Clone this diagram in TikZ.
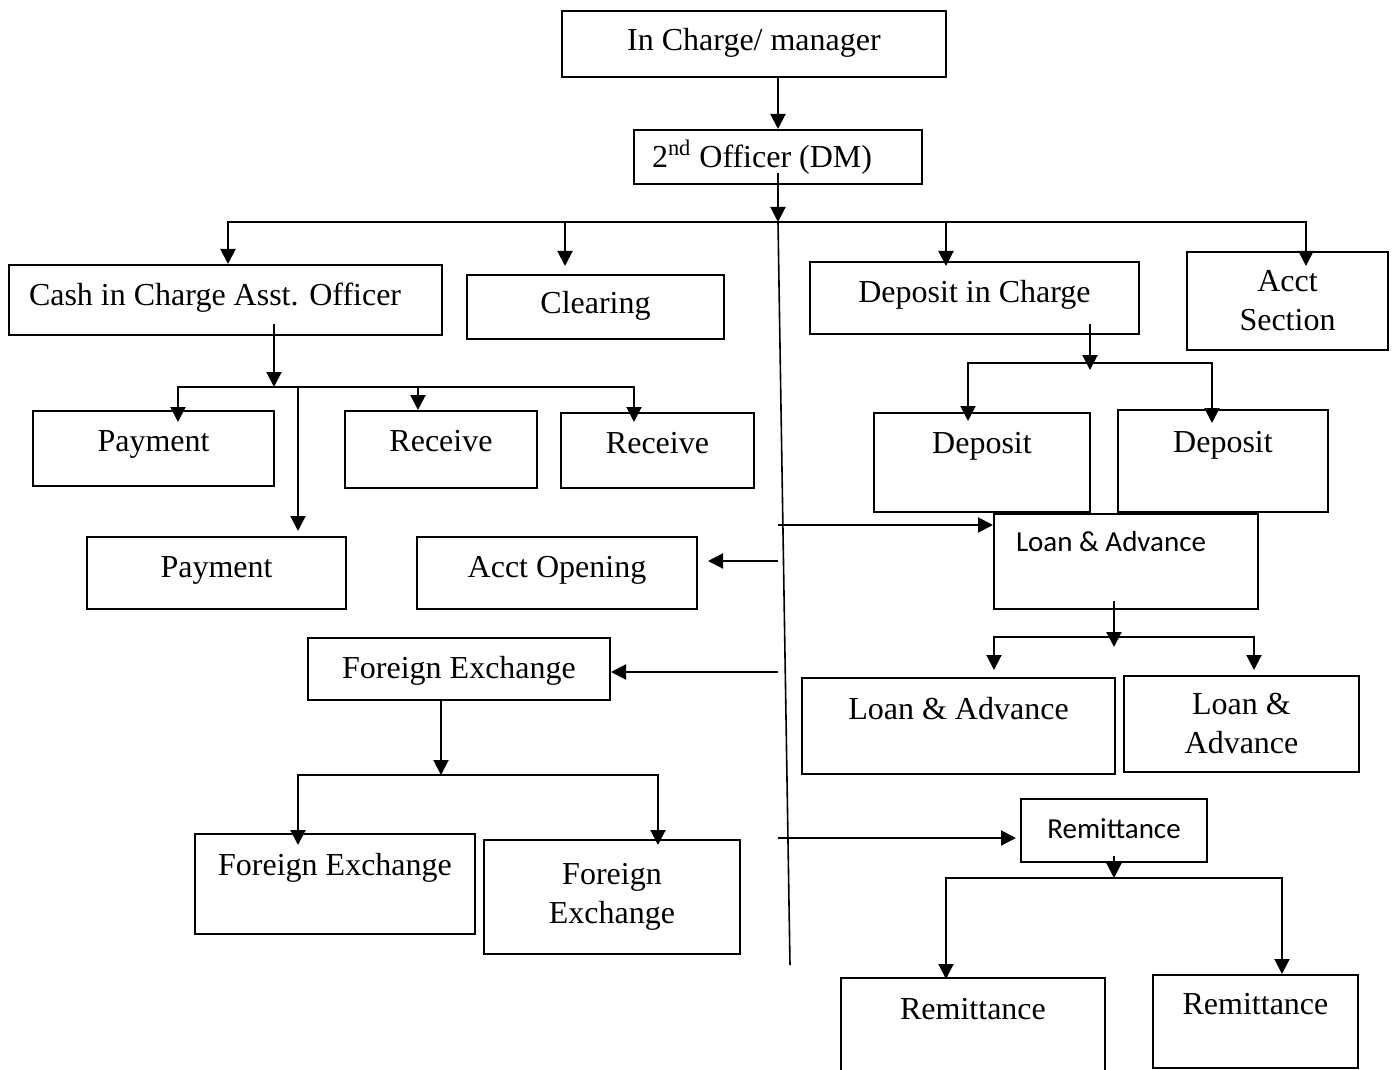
\documentclass[tikz,border=0pt]{standalone}
\usepackage{fontspec}
\setmainfont{Liberation Serif}
\newfontfamily\calibri{Carlito}
\usetikzlibrary{arrows.meta}

\begin{document}
\begin{tikzpicture}[x=0.5pt, y=-0.5pt,
    box/.style={draw, rectangle, line width=1pt, inner sep=0pt, font=\fontsize{16}{19.5}\selectfont, text height=11pt, text depth=#1},
    box/.default=4pt,
    stack/.style={draw, rectangle, line width=1pt, inner sep=0pt, font=\fontsize{16}{19.5}\selectfont, align=center},
    sansbox/.style={box=#1, font=\calibri\fontsize{14.5}{17}\selectfont, text height=10pt},
    arr/.style={line width=1pt, -{Triangle[length=7.5pt, width=7.5pt]}},
    link/.style={line width=1pt, line cap=rect},
    spine/.style={line width=0.8pt}]
    \useasboundingbox (0,0) rectangle (1394,1070);

    % Nodes
    \node[box, minimum width=192pt, minimum height=33pt] (mgr) at (754,44) {In Charge/ manager};
    \node[box=0pt, minimum width=144pt, minimum height=27pt, text width=126pt, inner xsep=9pt, align=flush left] (dm) at (778,157) {2\textsuperscript{nd} Officer (DM)};

    \node[box=5.4pt, minimum width=216.5pt, minimum height=35pt, text width=196.5pt, inner xsep=10pt, align=flush left] (cash) at (225.5,300) {Cash in Charge Asst. Officer};
    \node[box, minimum width=128.5pt, minimum height=32pt] (clearing) at (595.5,307) {Clearing};
    \node[box=6.4pt, minimum width=164.5pt, minimum height=36pt] (depin) at (974.5,298) {Deposit in Charge};
    \node[stack, minimum width=100.5pt, minimum height=49pt] (acct) at (1287.5,301) {Acct\\Section};

    \node[box=8pt, minimum width=120.5pt, minimum height=37.5pt] (pay1) at (153.5,448.5) {Payment};
    \node[box=9pt, minimum width=96pt, minimum height=38.5pt] (recv1) at (441,449.5) {Receive};
    \node[box=8pt, minimum width=96.5pt, minimum height=37.5pt] (recv2) at (657.5,450.5) {Receive};
    \node[box=6.6pt, minimum width=129.5pt, minimum height=36pt] (pay2) at (216.5,573) {Payment};
    \node[box=6.6pt, minimum width=140pt, minimum height=36pt] (acctop) at (557,573) {Acct Opening};
    \node[box=2pt, minimum width=151pt, minimum height=31pt] (fx) at (459,669) {Foreign Exchange};
    \node[box=19.4pt, minimum width=140pt, minimum height=50pt] (fx1) at (335,884) {Foreign Exchange};
    \node[stack, minimum width=128pt, minimum height=57pt] (fx2) at (612,897) {Foreign\\Exchange};

    \node[box=20pt, minimum width=108pt, minimum height=49.5pt] (dep1) at (982,462.5) {Deposit};
    \node[box=20pt, minimum width=105pt, minimum height=51pt] (dep2) at (1223,461) {Deposit};
    \node[sansbox=20pt, minimum width=132pt, minimum height=47.5pt, text width=110pt, inner xsep=11pt, align=flush left] (loan) at (1126,561.5) {Loan \& Advance};
    \node[box=17.4pt, minimum width=156.5pt, minimum height=48pt] (loan1) at (958.5,726) {Loan \& Advance};
    \node[stack, minimum width=117.5pt, minimum height=48pt] (loan2) at (1241.5,724) {Loan \&\\Advance};
    \node[sansbox=2pt, minimum width=93pt, minimum height=31.5pt] (remit) at (1114,830.5) {Remittance};
    \node[box=25.4pt, minimum width=132pt, minimum height=56pt] (remit1) at (973,1034) {Remittance};
    \node[box=18pt, minimum width=102.5pt, minimum height=46.5pt] (remit2) at (1255.5,1021.5) {Remittance};

    % Connections from the top
    \coordinate (bus) at (778,222);
    \draw[arr] (mgr.south -| dm.north) -- (dm.north);
    \draw[arr, shorten <=-6pt] (dm.south) -- (bus);

    \coordinate (tapcash) at (228,222);
    \coordinate (tapclr) at (565,222);
    \coordinate (tapdep) at (946,222);
    \coordinate (tapacct) at (1306,222);
    \draw[link] (tapcash) -- (tapacct);
    \draw[arr] (tapcash) -- (tapcash |- cash.north);
    \draw[arr, shorten >=4pt] (tapclr) -- (tapclr |- clearing.north);
    \draw[arr, shorten >=-2.5pt] (tapdep) -- (tapdep |- depin.north);
    \draw[arr, shorten >=-7.5pt] (tapacct) -- (tapacct |- acct.north);

    % Middle line and its branches
    \coordinate (foot) at (790,965);
    \draw[spine] (bus) -- (foot);
    \coordinate (toloan) at ([yshift=-6pt]loan.north west);
    \coordinate (toopen) at ([yshift=6pt]acctop.east);
    \coordinate (tofx) at ([yshift=-1.5pt]fx.east);
    \coordinate (toremit) at ([yshift=-3.75pt]remit.west);
    \draw[arr] (bus |- toloan) -- (toloan);
    \draw[arr, shorten >=5pt] (bus |- toopen) -- (toopen);
    \draw[arr] (bus |- tofx) -- (tofx);
    \draw[arr, shorten >=2pt] (bus |- toremit) -- (toremit);

    % Cash section
    \coordinate (cashbus) at (274,387);
    \coordinate (tappay1) at (178,387);
    \coordinate (tappay2) at (298,387);
    \coordinate (taprecv1) at (418,387);
    \coordinate (taprecv2) at (634,387);
    \draw[arr, shorten <=-6pt] (cash.south -| cashbus) -- (cashbus);
    \draw[link] (tappay1) -- (taprecv2);
    \draw[arr, shorten >=-6pt] (tappay1) -- (tappay1 |- pay1.north);
    \draw[arr, shorten >=2.5pt] (tappay2) -- (tappay2 |- pay2.north);
    \draw[arr] (taprecv1) -- (taprecv1 |- recv1.north);
    \draw[arr, shorten >=-5pt] (taprecv2) -- (taprecv2 |- recv2.north);

    % Deposit section
    \coordinate (depbus) at (1090,363);
    \coordinate (tapdep1) at (968,363);
    \coordinate (tapdep2) at (1212,363);
    \draw[arr, shorten <=-5.5pt, shorten >=-3.5pt] (depin.south -| depbus) -- (depbus);
    \draw[link] (tapdep1) -- (tapdep2);
    \draw[arr, shorten >=-4.5pt] (tapdep1) -- (tapdep1 |- dep1.north);
    \draw[arr, shorten >=-7pt] (tapdep2) -- (tapdep2 |- dep2.north);

    % Loan section
    \coordinate (loanbus) at (1114,637);
    \coordinate (taploan1) at (994,637);
    \coordinate (taploan2) at (1254,637);
    \draw[arr, shorten <=-4.5pt, shorten >=-5pt] (loan.south -| loanbus) -- (loanbus);
    \draw[link] (taploan1) -- (taploan2);
    \draw[arr, shorten >=3.5pt] (taploan1) -- (taploan1 |- loan1.north);
    \draw[arr, shorten >=2.5pt] (taploan2) -- (taploan2 |- loan2.north);

    % Foreign exchange section
    \coordinate (fxbus) at (441,775);
    \coordinate (tapfx1) at (298,775);
    \coordinate (tapfx2) at (658,775);
    \draw[arr] (fx.south -| fxbus) -- (fxbus);
    \draw[link] (tapfx1) -- (tapfx2);
    \draw[arr, shorten >=-6pt] (tapfx1) -- (tapfx1 |- fx1.north);
    \draw[arr, shorten >=-3pt] (tapfx2) -- (tapfx2 |- fx2.north);

    % Remittance section
    \coordinate (remitbus) at (1114,878);
    \coordinate (tapremit1) at (946,878);
    \coordinate (tapremit2) at (1282,878);
    \draw[arr, shorten <=-3.5pt] (remit.south -| remitbus) -- (remitbus);
    \draw[link] (tapremit1) -- (tapremit2);
    \draw[arr, shorten >=-1pt] (tapremit1) -- (tapremit1 |- remit1.north);
    \draw[arr] (tapremit2) -- (tapremit2 |- remit2.north);
\end{tikzpicture}
\end{document}
